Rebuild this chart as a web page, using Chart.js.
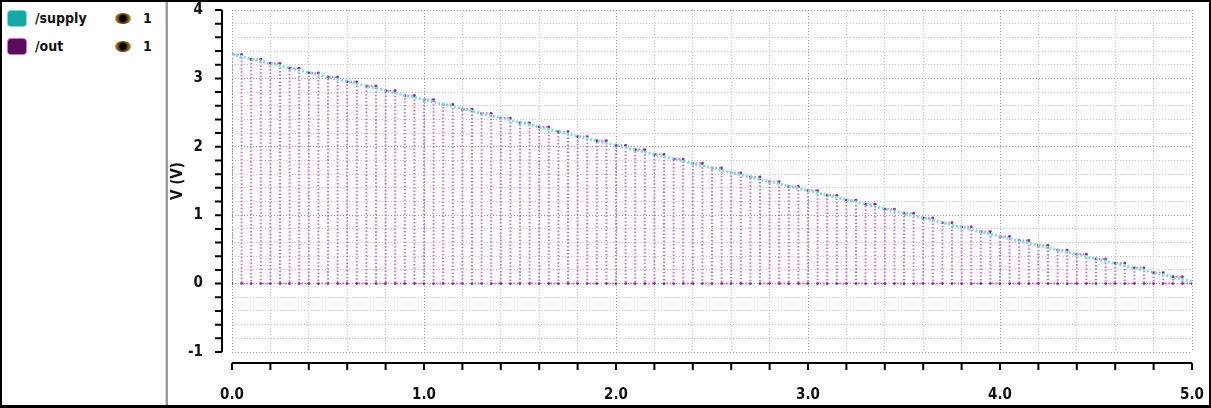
<!DOCTYPE html>
<html>
<head>
<meta charset="utf-8">
<script src="https://cdn.jsdelivr.net/npm/chart.js@4/dist/chart.umd.min.js"></script>
<style>
  html, body { margin: 0; padding: 0; background: #fff; }
  #frame {
    position: absolute; left: 0; top: 0; width: 1211px; height: 408px;
    box-sizing: border-box; border: 2px solid #000; border-bottom-width: 3px;
  }
  #divider {
    position: absolute; left: 163px; top: 0; width: 2px; height: 100%;
    border-left: 1px solid #d0d0d0; background: #9a9a9a;
  }
  #plot { position: absolute; left: 0; top: 0; }
  .row {
    position: absolute; left: 8px; height: 16px;
    font: bold 14px "DejaVu Sans Condensed", "DejaVu Sans", sans-serif; color: #111;
  }
  .sw { position: absolute; left: 0; top: 0; width: 18px; height: 15px; border-radius: 3px; }
  .name { position: absolute; left: 27px; top: -1px; }
  .eye {
    position: absolute; left: 107px; top: 2px; width: 16px; height: 11px; border-radius: 50%;
    background: radial-gradient(circle, #000 0 30%, #5a3a08 45%, #b8862e 75%, #e8c070 100%);
  }
  .num { position: absolute; left: 135px; top: -1px; }
</style>
</head>
<body>
<div id="frame">
  <div id="divider"></div>
</div>
<div class="row" style="top:11px">
  <span class="sw" style="background:#16a6a6; box-shadow:0 0 0 1px #7fd6d6"></span>
  <span class="name">/supply</span><span class="eye"></span><span class="num">1</span>
</div>
<div class="row" style="top:39px">
  <span class="sw" style="background:#5a0d5a; box-shadow:0 0 0 1px #d070d0"></span>
  <span class="name">/out</span><span class="eye"></span><span class="num">1</span>
</div>
<canvas id="plot" width="1211" height="408"></canvas>
<script>
// /supply: ramps down linearly (read at each second)
const supplyT = [0, 1, 2, 3, 4, 5];
const supplyV = [3.35, 2.69, 2.02, 1.36, 0.69, 0.03];

// /out: pulse train, rising/falling edge times (s) and high level (V)
const outRise = [0.00, 0.10, 0.20, 0.30, 0.40, 0.50, 0.60, 0.70, 0.80, 0.90,
                 1.00, 1.10, 1.20, 1.30, 1.40, 1.50, 1.60, 1.70, 1.80, 1.90,
                 2.00, 2.10, 2.20, 2.30, 2.40, 2.50, 2.60, 2.70, 2.80, 2.90,
                 3.00, 3.10, 3.20, 3.30, 3.40, 3.50, 3.60, 3.70, 3.80, 3.90,
                 4.00, 4.10, 4.20, 4.30, 4.40, 4.50, 4.60, 4.70, 4.80, 4.90];
const outFall = [0.05, 0.15, 0.25, 0.35, 0.45, 0.55, 0.65, 0.75, 0.85, 0.95,
                 1.05, 1.15, 1.25, 1.35, 1.45, 1.55, 1.65, 1.75, 1.85, 1.95,
                 2.05, 2.15, 2.25, 2.35, 2.45, 2.55, 2.65, 2.75, 2.85, 2.95,
                 3.05, 3.15, 3.25, 3.35, 3.45, 3.55, 3.65, 3.75, 3.85, 3.95,
                 4.05, 4.15, 4.25, 4.35, 4.45, 4.55, 4.65, 4.75, 4.85, 4.95];
const outHigh = [3.35, 3.28, 3.22, 3.15, 3.08, 3.02, 2.95, 2.89, 2.82, 2.75,
                 2.69, 2.62, 2.55, 2.49, 2.42, 2.35, 2.29, 2.22, 2.15, 2.09,
                 2.02, 1.96, 1.89, 1.82, 1.76, 1.69, 1.62, 1.56, 1.49, 1.42,
                 1.36, 1.29, 1.22, 1.16, 1.09, 1.03, 0.96, 0.89, 0.83, 0.76,
                 0.69, 0.63, 0.56, 0.49, 0.43, 0.36, 0.30, 0.23, 0.16, 0.10];
const outLow = 0;
const tEnd = 5.0;

const xTickLabels = ['0.0', '1.0', '2.0', '3.0', '4.0', '5.0'];

const supplyPoints = supplyT.map((t, i) => ({ x: t, y: supplyV[i] }));
const outPoints = [];
outRise.forEach((t, i) => {
  outPoints.push({ x: t, y: outLow }, { x: t, y: outHigh[i] },
                 { x: outFall[i], y: outHigh[i] }, { x: outFall[i], y: outLow });
});
outPoints.push({ x: tEnd, y: outLow });

const isWhole = v => Math.abs(v - Math.round(v)) < 1e-6;
const tickFont = { family: '"DejaVu Sans Condensed", "DejaVu Sans", sans-serif', size: 15, weight: 'bold' };

// axis lines sit a little away from the plot area, like the simulator's viewer
const offsetAxes = {
  id: 'offsetAxes',
  afterDraw(chart) {
    const { ctx, chartArea: a, scales: { x, y } } = chart;
    ctx.save();
    ctx.strokeStyle = '#000';
    ctx.lineWidth = 2;
    ctx.beginPath();
    const ax = a.left - 10;
    ctx.moveTo(ax, a.top); ctx.lineTo(ax, a.bottom);
    y.ticks.forEach(t => {
      const py = y.getPixelForValue(t.value);
      ctx.moveTo(ax - 7, py); ctx.lineTo(ax, py);
    });
    const ay = a.bottom + 11;
    ctx.moveTo(a.left, ay); ctx.lineTo(a.right, ay);
    x.ticks.forEach(t => {
      const px = x.getPixelForValue(t.value);
      ctx.moveTo(px, ay); ctx.lineTo(px, ay + 7);
    });
    ctx.stroke();
    ctx.restore();
  }
};

new Chart(document.getElementById('plot'), {
  type: 'line',
  data: {
    datasets: [
      {
        label: '/supply',
        data: supplyPoints,
        borderColor: '#7adede',
        borderWidth: 3,
        borderDash: [2, 2],
        pointRadius: 0,
        tension: 0
      },
      {
        label: '/out',
        data: outPoints,
        borderColor: 'rgba(208, 80, 208, 0.85)',
        borderWidth: 2,
        borderDash: [1.5, 2],
        pointRadius: 1.4,
        pointBackgroundColor: '#8e2a8e',
        pointBorderWidth: 0,
        tension: 0
      }
    ]
  },
  options: {
    responsive: false,
    animation: false,
    layout: { padding: { left: 0, right: 19, top: 10, bottom: 0 } },
    plugins: { legend: { display: false }, tooltip: { enabled: false } },
    scales: {
      x: {
        type: 'linear',
        min: 0, max: 5,
        afterFit: s => { s.height = 56; s.paddingLeft = 0; s.paddingRight = 0; },
        ticks: {
          stepSize: 0.2, autoSkip: false, maxRotation: 0, padding: 34,
          color: '#111', font: tickFont,
          callback: v => isWhole(v) ? xTickLabels[Math.round(v)] : ''
        },
        grid: {
          drawTicks: false,
          color: c => isWhole(c.tick.value) ? '#9c9c9c' : '#c6c6c6'
        },
        border: { display: false, dash: [1, 2] }
      },
      y: {
        type: 'linear',
        min: -1, max: 4,
        afterFit: s => { s.width = 232; s.paddingTop = 0; s.paddingBottom = 0; },
        ticks: {
          stepSize: 0.2, autoSkip: false, padding: 29,
          color: '#111', font: tickFont,
          callback: v => isWhole(v) ? String(Math.round(v)) : ''
        },
        grid: {
          drawTicks: false,
          color: c => isWhole(c.tick.value) ? '#9c9c9c' : '#c6c6c6'
        },
        border: { display: false, dash: [1, 2] },
        title: {
          display: true, text: 'V (V)', color: '#111',
          font: tickFont, padding: { top: 169, bottom: 0 }
        }
      }
    }
  },
  plugins: [offsetAxes]
});
</script>
</body>
</html>
